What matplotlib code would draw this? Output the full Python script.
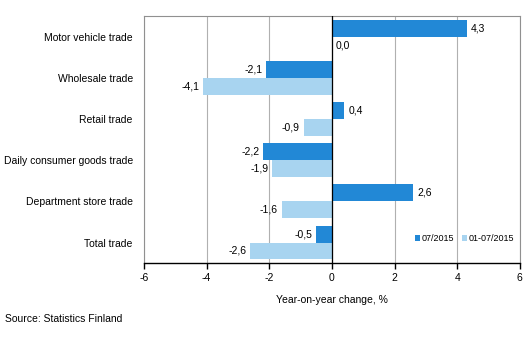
import matplotlib.pyplot as plt
import numpy as np

plt.rcParams['font.family'] = ['Liberation Sans', 'DejaVu Sans']

categories = ['Motor vehicle trade', 'Wholesale trade', 'Retail trade',
              'Daily consumer goods trade', 'Department store trade', 'Total trade']
month = [4.3, -2.1, 0.4, -2.2, 2.6, -0.5]
ytd = [0.0, -4.1, -0.9, -1.9, -1.6, -2.6]
series_names = ['07/2015', '01-07/2015']

dark = '#2288d6'
light = '#a8d4f0'

fig = plt.figure(figsize=(5.31, 3.58), dpi=100)
ax = fig.add_axes([0.271, 0.265, 0.708, 0.69])

y = np.arange(len(categories))
h = 0.41
ax.barh(y - h / 2, month, height=h, color=dark, label=series_names[0], zorder=3)
ax.barh(y + h / 2, ytd, height=h, color=light, label=series_names[1], zorder=3)

fmt = lambda v: f'{v:.1f}'.replace('.', ',')
for yy, vals in [(y - h / 2, month), (y + h / 2, ytd)]:
    for yi, v in zip(yy, vals):
        if v >= 0:
            ax.text(v + 0.12, yi, fmt(v), ha='left', va='center', fontsize=7.5)
        else:
            ax.text(v - 0.12, yi, fmt(v), ha='right', va='center', fontsize=7.5)

ax.set_xlim(-6, 6)
ax.set_ylim(len(categories) - 0.5, -0.5)
ax.set_xticks(np.arange(-6, 7, 2))
ax.set_xticklabels([str(t) for t in range(-6, 7, 2)], fontsize=7.5)
ax.set_yticks(y)
ax.set_yticklabels(categories, fontsize=7.5)
ax.tick_params(axis='y', length=0, pad=8)
ax.tick_params(axis='x', length=4, width=1, direction='out', pad=3)

ax.grid(axis='x', color='#b0b0b0', linewidth=0.8, zorder=0)
ax.axvline(0, color='black', linewidth=0.9, zorder=4)
for s in ['left', 'top', 'right']:
    ax.spines[s].set_color('#909090')
    ax.spines[s].set_linewidth(0.8)
ax.spines['bottom'].set_color('black')
ax.spines['bottom'].set_linewidth(1)

ax.set_xlabel('Year-on-year change, %', fontsize=7.5, labelpad=9)

ax.legend(loc='lower right', bbox_to_anchor=(1.0, 0.06), ncol=2, frameon=False,
          fontsize=6.5, handlelength=0.6, handleheight=0.6, handletextpad=0.2,
          columnspacing=0.8, borderaxespad=0.2)

fig.text(0.01, 0.11, 'Source: Statistics Finland', fontsize=7.5, va='center')

fig.savefig('out.png', dpi=100)
